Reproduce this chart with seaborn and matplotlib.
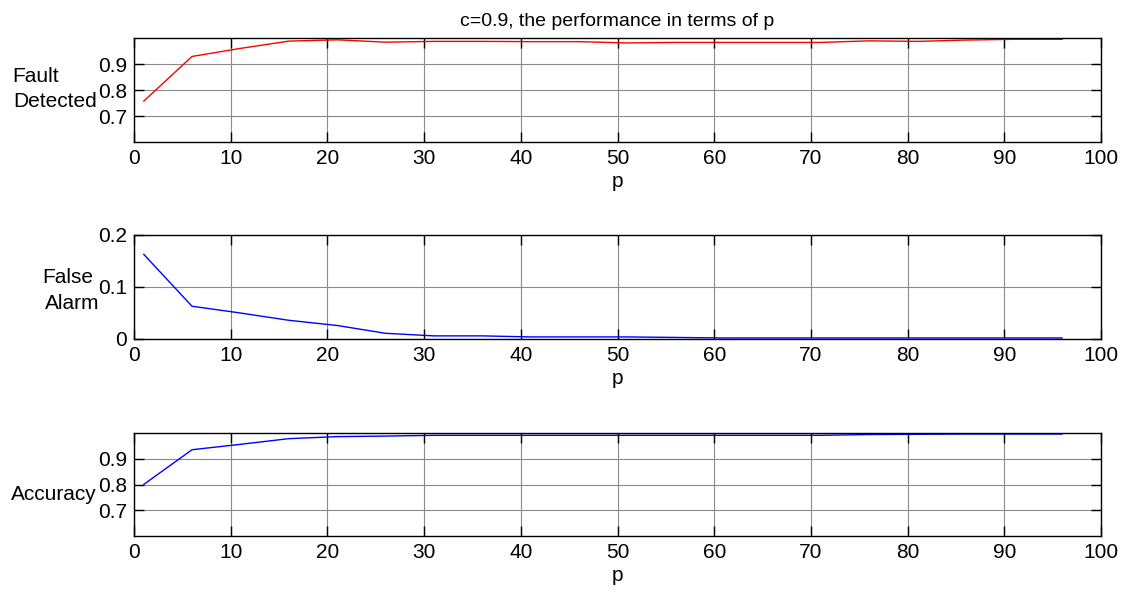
import numpy as np
import pandas as pd
import matplotlib
matplotlib.use("Agg")
import matplotlib.pyplot as plt
import seaborn as sns

# ---- data ----
p_values = [1, 6, 11, 16, 21, 26, 31, 36, 41, 46, 51, 56, 61, 66, 71, 76, 81, 86, 91, 96]
fault_detected = [0.757, 0.929, 0.960, 0.988, 0.993, 0.984, 0.987, 0.987, 0.986, 0.986,
                  0.981, 0.983, 0.983, 0.983, 0.983, 0.989, 0.987, 0.992, 0.995, 0.995]
false_alarm = [0.163, 0.063, 0.050, 0.036, 0.026, 0.011, 0.006, 0.006, 0.004, 0.004,
               0.004, 0.003, 0.002, 0.002, 0.002, 0.002, 0.002, 0.002, 0.002, 0.002]
accuracy = [0.800, 0.935, 0.956, 0.978, 0.986, 0.988, 0.991, 0.991, 0.991, 0.991,
            0.991, 0.991, 0.991, 0.991, 0.991, 0.994, 0.995, 0.996, 0.996, 0.996]

title_text = "c=0.9, the performance in terms of p"
x_ticks = [0, 10, 20, 30, 40, 50, 60, 70, 80, 90, 100]
perf_yticks = [0.7, 0.8, 0.9]
fa_yticks = [0, 0.1, 0.2]

sns.set_style("white")
plt.rcParams['font.family'] = ['Liberation Sans', 'DejaVu Sans']
plt.rcParams['font.size'] = 15
plt.rcParams['text.color'] = 'black'
plt.rcParams['axes.labelcolor'] = 'black'
plt.rcParams['xtick.color'] = 'black'
plt.rcParams['ytick.color'] = 'black'

W, H = 1125, 592
fig = plt.figure(figsize=(W / 100, H / 100), dpi=100)

def px_axes(left, top, right, bottom):
    return fig.add_axes([left / W, 1 - bottom / H, (right - left) / W, (bottom - top) / H])

ax1 = px_axes(134, 38, 1101, 142)
ax2 = px_axes(134, 235, 1101, 339)
ax3 = px_axes(134, 433, 1101, 536)

df = pd.DataFrame({"p": p_values, "fd": fault_detected, "fa": false_alarm, "acc": accuracy})

sns.lineplot(data=df, x="p", y="fd", ax=ax1, color="#ff0000", linewidth=1.0)
sns.lineplot(data=df, x="p", y="fa", ax=ax2, color="#0000ff", linewidth=1.0)
sns.lineplot(data=df, x="p", y="acc", ax=ax3, color="#0000ff", linewidth=1.0)

for ax, yt, yl in [(ax1, perf_yticks, (0.6, 1.0)), (ax2, fa_yticks, (0, 0.2)), (ax3, perf_yticks, (0.6, 1.0))]:
    ax.set_xlim(0, 100)
    ax.set_ylim(*yl)
    ax.set_xticks(x_ticks)
    ax.set_yticks(yt)
    ax.set_yticklabels([f"{v:g}" for v in yt])
    ax.set_xticklabels([str(v) for v in x_ticks])
    ax.grid(True, color="#8a8a8a", linewidth=0.8)
    ax.set_axisbelow(True)
    for s in ax.spines.values():
        s.set_visible(True)
        s.set_color("black")
        s.set_linewidth(1.0)
    ax.tick_params(direction="in", length=7, width=1, top=True, right=True,
                   bottom=True, left=True, labelsize=15, colors="black", pad=5)
    ax.set_xlabel("p", fontsize=15, labelpad=3, color="black")
    ax.set_ylabel("")

ax1.set_title(title_text, fontsize=14, pad=9, color="black")

def ftext(x, y, s):
    fig.text(x / W, 1 - y / H, s, ha="left", va="baseline", fontsize=15, color="black")

ftext(12, 82, "Fault")
ftext(13, 107, "Detected")
ftext(42, 283, "False")
ftext(45, 309, "Alarm")
ftext(11, 500, "Accuracy")

fig.savefig("out.png", dpi=100)
